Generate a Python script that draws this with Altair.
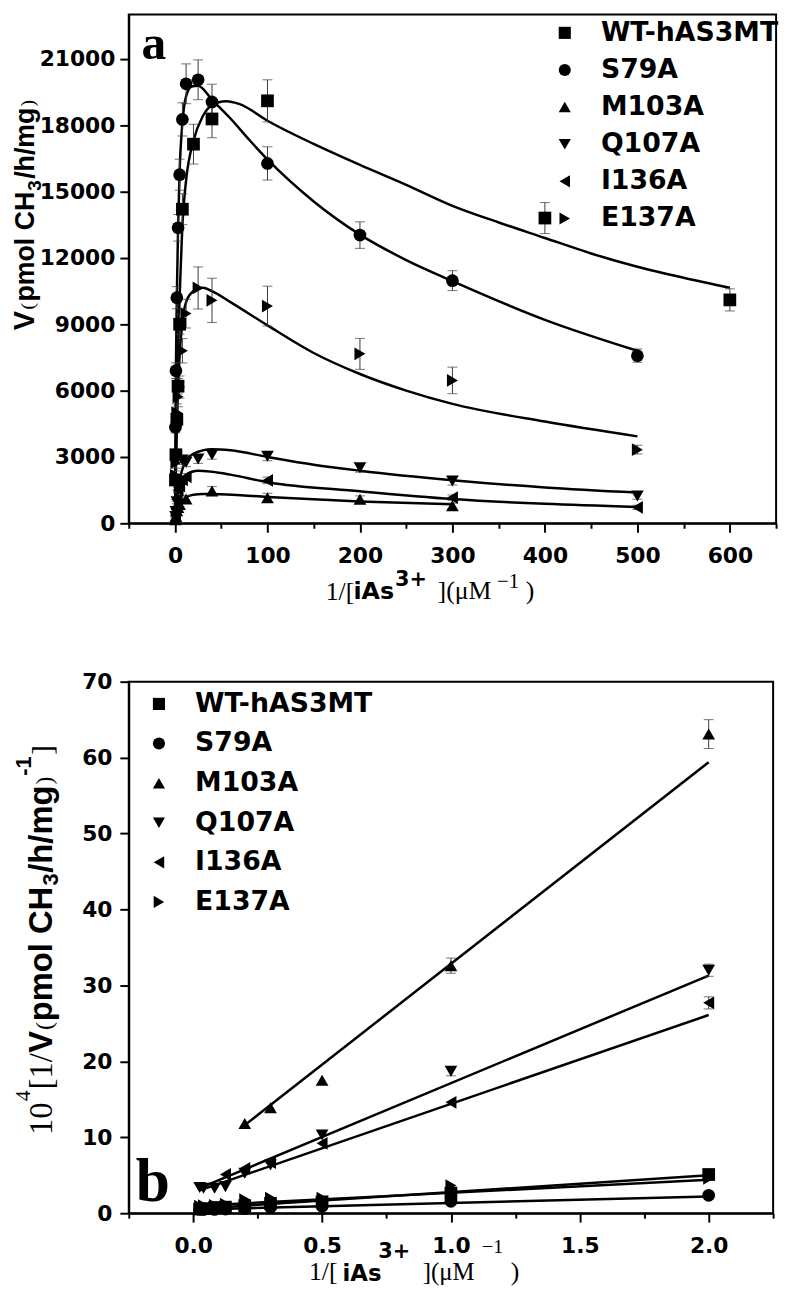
import altair as alt
import pandas as pd

# ---------------- shared ----------------
series = ["WT-hAS3MT", "S79A", "M103A", "Q107A", "I136A", "E137A"]
shapes = ["square", "circle", "triangle-up", "triangle-down", "triangle-left", "triangle-right"]

# ---------------- panel a : points (x, V, error) ----------------
a_wt_x = [0.5, 1, 2, 3.3, 5, 8, 20, 40, 100, 400, 600]
a_wt_y = [1960, 3100, 4700, 6200, 9000, 14200, 17140, 18280, 19100, 13800, 10100]
a_wt_e = [150, 200, 300, 350, 450, 700, 900, 850, 950, 700, 500]

a_s79_x = [0.5, 1, 2, 3.3, 5, 8, 12, 25, 40, 100, 200, 300, 500]
a_s79_y = [4340, 6900, 10200, 13360, 15760, 18260, 19870, 20050, 19050, 16270, 13030, 10970, 7580]
a_s79_e = [250, 350, 500, 600, 700, 750, 900, 900, 800, 750, 600, 450, 300]

a_m103_x = [0.5, 1, 2, 3.3, 5, 12, 40, 100, 200, 300]
a_m103_y = [159, 307, 571, 719, 847, 1100, 1460, 1160, 1090, 790]
a_m103_e = [30, 40, 60, 80, 100, 150, 200, 200, 150, 120]

a_q107_x = [0.5, 1, 2, 3.3, 5, 8, 12, 25, 40, 100, 200, 300, 500]
a_q107_y = [312, 535, 971, 1575, 1905, 2857, 2760, 2910, 3100, 3030, 2510, 1910, 1240]
a_q107_e = [40, 60, 90, 120, 150, 200, 200, 200, 200, 200, 200, 180, 150]

a_i136_x = [0.5, 1, 2, 3.3, 5, 8, 12, 100, 300, 500]
a_i136_y = [361, 685, 1087, 1504, 1695, 1960, 2100, 1940, 1160, 720]
a_i136_e = [40, 60, 90, 110, 130, 150, 150, 150, 120, 100]

a_e137_x = [0.5, 1, 2, 3.3, 5, 8, 12, 25, 40, 100, 200, 300, 500]
a_e137_y = [2170, 2740, 5000, 5720, 6160, 7800, 9480, 10640, 10080, 9820, 7660, 6460, 3330]
a_e137_e = [200, 250, 400, 450, 500, 550, 650, 950, 1000, 900, 700, 600, 200]

# ---------------- panel a : fitted curves ----------------
c_wt_x = [0, 0.5, 1, 2, 3.3, 5, 8, 12, 20, 30, 40, 55, 70, 100, 150, 200, 250, 300, 350, 400, 450, 500, 550, 600]
c_wt_y = [0, 1950, 3200, 5300, 7800, 10300, 13500, 15500, 17300, 18400, 18900, 19080, 18950, 18200, 17150, 16200,
          15300, 14350, 13600, 12900, 12200, 11600, 11100, 10650]

c_s79_x = [0, 0.5, 1, 2, 3.3, 5, 8, 12, 18, 25, 40, 60, 80, 100, 150, 200, 250, 300, 400, 500]
c_s79_y = [0, 4300, 7000, 10300, 13300, 15900, 18100, 19300, 19750, 19780, 19150, 18300, 17350, 16450, 14550,
           13050, 11900, 10950, 9200, 7800]

c_m103_x = [0, 0.5, 1, 2, 3.3, 5, 8, 12, 20, 30, 40, 100, 200, 300]
c_m103_y = [0, 160, 310, 570, 730, 860, 1040, 1180, 1290, 1330, 1330, 1190, 990, 860]

c_q107_x = [0, 0.5, 1, 2, 3.3, 5, 8, 12, 20, 40, 60, 100, 150, 200, 300, 400, 500]
c_q107_y = [0, 300, 560, 1000, 1500, 1950, 2450, 2850, 3150, 3350, 3300, 3000, 2650, 2380, 1950, 1620, 1390]

c_i136_x = [0, 0.5, 1, 2, 3.3, 5, 8, 12, 25, 40, 60, 100, 200, 300, 400, 500]
c_i136_y = [0, 360, 680, 1100, 1480, 1720, 1980, 2200, 2380, 2330, 2200, 1860, 1450, 1100, 880, 740]

c_e137_x = [0, 0.5, 1, 2, 3.3, 5, 8, 12, 20, 30, 40, 60, 100, 150, 200, 250, 300, 400, 500]
c_e137_y = [0, 1300, 2500, 4400, 6100, 7600, 9100, 10000, 10500, 10650, 10500, 10000, 8950, 7700, 6750, 6000,
            5400, 4600, 3930]

# ---------------- panel b : double reciprocal points ----------------
b_x = [0.025, 0.04, 0.083, 0.125, 0.2, 0.3, 0.5, 1, 2]
b_wt_y = [0.55, 0.6, 0.75, 0.8, 1.0, 1.3, 1.5, 2.65, 5.1]
b_s79_y = [0.5, 0.5, 0.5, 0.55, 0.6, 0.8, 0.9, 1.56, 2.35]
b_e137_y = [0.95, 1.0, 1.05, 1.2, 1.8, 2.0, 2.0, 3.65, 4.6]
b_q107_x = [0.025, 0.04, 0.083, 0.125, 0.2, 0.3, 0.5, 1, 2]
b_q107_y = [3.4, 3.3, 3.3, 3.5, 5.25, 6.35, 10.3, 18.7, 32.0]
b_i136_x = [0.125, 0.2, 0.3, 0.5, 1, 2]
b_i136_y = [5.1, 5.9, 6.65, 9.2, 14.6, 27.7]
b_m103_x = [0.2, 0.3, 0.5, 1, 2]
b_m103_y = [11.8, 13.9, 17.5, 32.6, 63.1]
b_err_series = ["M103A", "M103A", "Q107A", "I136A", "WT-hAS3MT", "Q107A"]
b_err_x = [1, 2, 2, 2, 2, 1]
b_err_y = [32.6, 63.1, 32.0, 27.7, 5.1, 18.7]
b_err_e = [1.0, 1.9, 0.8, 0.8, 0.3, 0.6]

# fitted lines (end points)
l_wt = ([0.025, 2.0], [0.6, 5.0])
l_s79 = ([0.025, 2.0], [0.5, 2.2])
l_e137 = ([0.025, 2.0], [1.0, 4.4])
l_q107 = ([0.025, 2.0], [3.3, 31.3])
l_i136 = ([0.025, 2.0], [3.0, 26.1])
l_m103 = ([0.2, 2.0], [11.6, 59.4])

# ---------------- build tables ----------------
def pts(name, xs, ys, es=None):
    d = pd.DataFrame({"series": name, "x": xs, "y": ys})
    if es is not None:
        d["lo"] = [y - e for y, e in zip(ys, es)]
        d["hi"] = [y + e for y, e in zip(ys, es)]
    return d

a_pts = pd.concat([
    pts("WT-hAS3MT", a_wt_x, a_wt_y, a_wt_e),
    pts("S79A", a_s79_x, a_s79_y, a_s79_e),
    pts("M103A", a_m103_x, a_m103_y, a_m103_e),
    pts("Q107A", a_q107_x, a_q107_y, a_q107_e),
    pts("I136A", a_i136_x, a_i136_y, a_i136_e),
    pts("E137A", a_e137_x, a_e137_y, a_e137_e),
])
a_cur = pd.concat([
    pts("WT-hAS3MT", c_wt_x, c_wt_y), pts("S79A", c_s79_x, c_s79_y),
    pts("M103A", c_m103_x, c_m103_y), pts("Q107A", c_q107_x, c_q107_y),
    pts("I136A", c_i136_x, c_i136_y), pts("E137A", c_e137_x, c_e137_y),
])
b_pts = pd.concat([
    pts("WT-hAS3MT", b_x, b_wt_y), pts("S79A", b_x, b_s79_y),
    pts("M103A", b_m103_x, b_m103_y), pts("Q107A", b_q107_x, b_q107_y),
    pts("I136A", b_i136_x, b_i136_y), pts("E137A", b_x, b_e137_y),
])
b_err = pd.DataFrame({"series": b_err_series, "x": b_err_x,
                      "lo": [y - e for y, e in zip(b_err_y, b_err_e)],
                      "hi": [y + e for y, e in zip(b_err_y, b_err_e)]})
b_lin = pd.concat([
    pts("WT-hAS3MT", *l_wt), pts("S79A", *l_s79), pts("M103A", *l_m103),
    pts("Q107A", *l_q107), pts("I136A", *l_i136), pts("E137A", *l_e137),
])

SANS = "DejaVu Sans"
NARROW = "Liberation Sans"
SERIF = "Liberation Serif"


def txt(s, x, y, font, size, weight="normal", angle=0):
    return alt.Chart(pd.DataFrame({"t": [s]})).mark_text(
        text=s, font=font, fontSize=size, fontWeight=weight, angle=angle,
        align="left", baseline="alphabetic", color="black"
    ).encode(x=alt.value(x), y=alt.value(y))


def panel(pts_df, cur_df, err_df, xdom, ydom, xvals, yvals, xlab, ylab, xmaj, ymaj, w, h,
          legx, legy, interp, texts, legrow, xpad, ypad, laboff):
    xs = alt.Scale(domain=xdom, nice=False, zero=False)
    ys = alt.Scale(domain=ydom, nice=False, zero=False)
    xax = alt.Axis(values=xvals, labelExpr=xlab, title=None, labelOverlap=False, labelFlush=False,
                   tickSize={"condition": {"test": xmaj, "value": 9}, "value": 5}, labelPadding=xpad)
    yax = alt.Axis(values=yvals, labelExpr=ylab, title=None, labelOverlap=False, labelFlush=False,
                   tickSize={"condition": {"test": ymaj, "value": 9}, "value": 5}, labelPadding=ypad)
    lines = alt.Chart(cur_df).mark_line(color="black", strokeWidth=2.5, interpolate=interp).encode(
        x=alt.X("x:Q", scale=xs, axis=xax), y=alt.Y("y:Q", scale=ys, axis=yax), detail="series:N")
    rules = alt.Chart(err_df).mark_rule(color="#3a3a3a", strokeWidth=1).encode(
        x="x:Q", y="lo:Q", y2="hi:Q")
    cap1 = alt.Chart(err_df).mark_tick(color="#3a3a3a", thickness=1, size=10, orient="horizontal").encode(
        x="x:Q", y="lo:Q")
    cap2 = alt.Chart(err_df).mark_tick(color="#3a3a3a", thickness=1, size=10, orient="horizontal").encode(
        x="x:Q", y="hi:Q")
    points = alt.Chart(pts_df).mark_point(filled=True, color="black", opacity=1, size=165).encode(
        x="x:Q", y="y:Q",
        shape=alt.Shape("series:N", scale=alt.Scale(domain=series, range=shapes),
                        legend=alt.Legend(title=None, orient="none", legendX=legx, legendY=legy,
                                          labelFont=SANS, labelFontWeight="bold", labelFontSize=27,
                                          labelColor="black", symbolSize=150, symbolFillColor="black",
                                          symbolStrokeWidth=0, labelOffset=laboff, rowPadding=legrow,
                                          padding=0, labelLimit=0)))
    return alt.layer(lines, rules, cap1, cap2, points, *texts).properties(width=w, height=h)


# axis title pieces, positions relative to the plot origin
ta = [
    txt("a", 13, 45, SERIF, 50, "bold"),
    txt("1/[", 199, 591, SERIF, 26),
    txt("iAs", 227, 590, SANS, 24, "bold"),
    txt("3+", 269, 577, SANS, 21, "bold"),
    txt("](\u03bcM", 312, 590, SERIF, 26),
    txt("\u22121", 372, 579, SERIF, 21),
    txt(")", 401, 590, SERIF, 26),
    txt("V", -96, 319, NARROW, 29, "bold", 270),
    txt("(", -96, 298, SERIF, 20, "normal", 270),
    txt("pmol CH", -96, 290, NARROW, 27, "bold", 270),
    txt("3", -89, 178, NARROW, 19, "bold", 270),
    txt("/h/mg", -96, 166, NARROW, 27, "bold", 270),
    txt(")", -96, 93, SERIF, 20, "normal", 270),
]
tb = [
    txt("b", 7, 525, SERIF, 62, "bold"),
    txt("1/[", 182, 604, SERIF, 26),
    txt("iAs", 216, 605, SANS, 23, "bold"),
    txt("3+", 252, 582, SANS, 21, "bold"),
    txt("](\u03bcM", 297, 604, SERIF, 25),
    txt("\u22121", 357, 577, SERIF, 20),
    txt(")", 386, 604, SERIF, 26),
    txt("10", -78, 458, SERIF, 33, "normal", 270),
    txt("4", -100, 424, SERIF, 22, "normal", 270),
    txt("[1/", -78, 412, SERIF, 33, "normal", 270),
    txt("V", -78, 375, NARROW, 33, "bold", 270),
    txt("(", -78, 352, SERIF, 24, "normal", 270),
    txt("pmol CH", -78, 343, NARROW, 33, "bold", 270),
    txt("3", -71, 206, NARROW, 22, "bold", 270),
    txt("/h/mg", -78, 193, NARROW, 33, "bold", 270),
    txt(")", -78, 104, SERIF, 24, "normal", 270),
    txt("-1", -99, 95, NARROW, 22, "bold", 270),
    txt("]", -78, 74, SERIF, 30, "normal", 270),
]

top = panel(a_pts, a_cur, a_pts, [-50, 650], [0, 23000],
            list(range(-50, 651, 50)), list(range(0, 22501, 1500)),
            "datum.value % 100 == 0 ? format(datum.value, 'd') : ''",
            "datum.value % 3000 == 0 ? format(datum.value, 'd') : ''",
            "datum.value % 100 == 0", "datum.value % 3000 == 0",
            654, 514, 427, 5, "monotone", ta, 9.5, 14, 5, 23)

bx_vals = [-0.25, 0, 0.25, 0.5, 0.75, 1.0, 1.25, 1.5, 1.75, 2.0, 2.25]
bottom = panel(b_pts, b_lin, b_err, [-0.25, 2.25], [0, 70],
               bx_vals, list(range(0, 71, 5)),
               "abs(datum.value*2 - round(datum.value*2)) < 1e-6 ? format(datum.value, '.1f') : ''",
               "datum.value % 10 == 0 ? format(datum.value, 'd') : ''",
               "abs(datum.value*2 - round(datum.value*2)) < 1e-6", "datum.value % 10 == 0",
               651, 537, 17, 9, "linear", tb, 12, 14, 8, 23)

chart = alt.vconcat(top, bottom, spacing=65).resolve_scale(shape="independent").resolve_legend(
    shape="independent"
).properties(padding={"left": 2, "top": -1, "right": 5, "bottom": 0}).configure_view(
    stroke="black", strokeWidth=2
).configure_axis(
    domainColor="black", domainWidth=2, tickColor="black", tickWidth=2, labelFont=SANS,
    labelFontWeight="bold", labelFontSize=22, labelColor="black", grid=False
)

chart.save("out.html", embed_options={"renderer": "svg", "actions": False})
